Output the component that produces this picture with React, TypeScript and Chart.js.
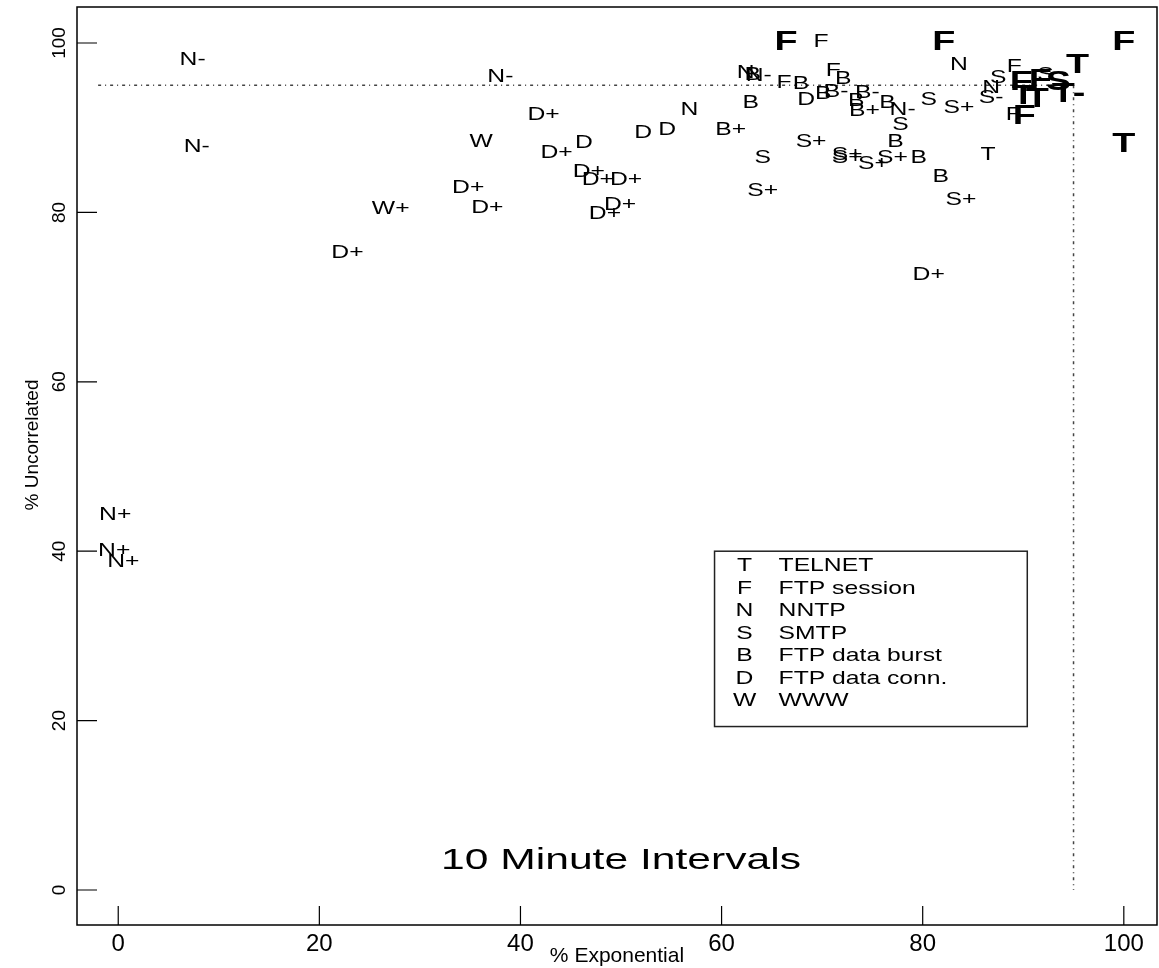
import { useEffect, useRef } from 'react';
import { Chart, registerables } from 'chart.js';

Chart.register(...registerables);

// ---- data ----
const xTicks = [0, 20, 40, 60, 80, 100];
const yTicks = [0, 20, 40, 60, 80, 100];

const plainLabels = [
  'N-', 'N-', 'N-', 'W', 'D+', 'D', 'D+', 'D', 'D', 'N',
  'D+', 'D+', 'D+', 'D+', 'D+', 'D+', 'D+', 'W+', 'D+', 'N+',
  'N+', 'N+', 'N', 'B', 'N-', 'F', 'B', 'D', 'B', 'B+',
  'S+', 'S', 'S+', 'F', 'B', 'B-', 'F', 'B', 'B', 'B-',
  'B+', 'B', 'N-', 'S', 'B', 'S+', 'S+', 'S+', 'S+', 'B',
  'B', 'S', 'S+', 'S+', 'D+', 'T', 'N', 'S', 'N', 'S-',
  'F', 'F', 'S',
];
const plainX = [
  7.4, 38.0, 7.8, 36.1, 42.3, 46.3, 43.6, 52.2, 54.6, 56.8,
  46.8, 47.7, 50.5, 34.8, 36.7, 49.9, 48.4, 27.1, 22.8, -0.3,
  -0.4, 0.5, 62.4, 63.1, 63.7, 66.2, 67.9, 68.4, 62.9, 60.9,
  68.9, 64.1, 64.1, 69.9, 70.1, 71.4, 71.1, 72.1, 73.4, 74.5,
  74.2, 76.5, 78.0, 77.8, 77.3, 72.5, 72.5, 75.1, 77.0, 79.6,
  81.8, 80.6, 83.6, 83.8, 80.6, 86.5, 83.6, 87.5, 86.8, 86.8,
  89.1, 89.0, 92.2,
];
const plainY = [
  98.0, 96.0, 87.7, 88.3, 91.5, 88.2, 87.0, 89.4, 89.7, 92.1,
  84.8, 83.8, 83.8, 82.9, 80.6, 80.9, 79.8, 80.4, 75.2, 44.3,
  40.1, 38.7, 96.5, 96.2, 96.1, 95.3, 95.2, 93.3, 93.0, 89.7,
  88.3, 86.5, 82.6, 100.1, 94.0, 94.2, 96.7, 95.8, 93.2, 94.1,
  92.0, 93.0, 92.1, 90.3, 88.3, 86.8, 86.4, 85.8, 86.5, 86.5,
  84.2, 93.3, 92.4, 81.5, 72.6, 86.8, 97.4, 95.9, 94.7, 93.5,
  97.2, 91.5, 96.2,
];

const boldLabels = ['F', 'F', 'F', 'T', 'T', 'F', 'F', 'S', 'T', 'T', 'T-', 'F'];
const boldX = [66.4, 82.1, 100.0, 95.4, 100.0, 89.8, 91.7, 93.5, 90.0, 91.4, 94.5, 90.1];
const boldY = [100.1, 100.1, 100.1, 97.4, 88.0, 95.4, 95.6, 95.4, 93.7, 93.3, 94.0, 91.3];

const refLevel = 95;
const refStart = -2;

const legendSymbols = ['T', 'F', 'N', 'S', 'B', 'D', 'W'];
const legendNames = ['TELNET', 'FTP session', 'NNTP', 'SMTP', 'FTP data burst', 'FTP data conn.', 'WWW'];

const chartTitle = '10 Minute Intervals';
const xTitle = '% Exponential';
const yTitle = '% Uncorrelated';

// ---- layout constants (data units for anchors) ----
const TITLE_AT = { x: 50, y: 3.5 };
const LEGEND_BOX = { left: 59.3, right: 90.4, top: 40.0, bottom: 19.3 };

const SANS = '"Liberation Sans", Arial, Helvetica, sans-serif';
const NARROW = '"Liberation Sans Narrow", "Liberation Sans", sans-serif';

const textPlugin = {
  id: 'textMarks',
  afterDatasetsDraw(chart: any) {
    const ctx = chart.ctx;
    chart.data.datasets.forEach((ds: any, i: number) => {
      if (!ds.textLabels) return;
      const meta = chart.getDatasetMeta(i);
      ctx.save();
      ctx.font = ds.textFont;
      ctx.fillStyle = '#000';
      ctx.textAlign = 'center';
      ctx.textBaseline = 'middle';
      meta.data.forEach((el: any, j: number) => {
        ctx.save();
        ctx.translate(el.x, el.y);
        ctx.scale(ds.textScaleX, 1);
        ctx.fillText(ds.textLabels[j], 0, 0);
        ctx.restore();
      });
      ctx.restore();
    });
  },
  afterDraw(chart: any) {
    const ctx = chart.ctx;
    const xs = chart.scales.x;
    const ys = chart.scales.y;
    const a = chart.chartArea;
    ctx.save();
    // box
    ctx.strokeStyle = '#000';
    ctx.lineWidth = 1.5;
    ctx.strokeRect(a.left, a.top, a.right - a.left, a.bottom - a.top);
    // tick marks (inward)
    ctx.lineWidth = 1.2;
    ctx.beginPath();
    xTicks.forEach((v) => {
      const px = xs.getPixelForValue(v);
      ctx.moveTo(px, a.bottom);
      ctx.lineTo(px, a.bottom - 19);
    });
    yTicks.forEach((v) => {
      const py = ys.getPixelForValue(v);
      ctx.moveTo(a.left, py);
      ctx.lineTo(a.left + 20, py);
    });
    ctx.stroke();
    // y tick labels (rotated)
    ctx.fillStyle = '#000';
    ctx.font = '19px ' + NARROW;
    ctx.textAlign = 'center';
    ctx.textBaseline = 'middle';
    yTicks.forEach((v) => {
      const py = ys.getPixelForValue(v);
      ctx.save();
      ctx.translate(a.left - 17, py);
      ctx.rotate(-Math.PI / 2);
      ctx.fillText(String(v), 0, 0);
      ctx.restore();
    });
    // y axis title
    ctx.save();
    ctx.font = '19px ' + NARROW;
    ctx.translate(a.left - 44, (a.top + a.bottom) / 2 - 21);
    ctx.rotate(-Math.PI / 2);
    ctx.fillText(yTitle, 0, 0);
    ctx.restore();
    // chart title
    ctx.font = '30px ' + SANS;
    ctx.save();
    ctx.translate(xs.getPixelForValue(TITLE_AT.x), ys.getPixelForValue(TITLE_AT.y));
    ctx.scale(1.42, 1);
    ctx.fillText(chartTitle, 0, 0);
    ctx.restore();
    // legend
    const L = xs.getPixelForValue(LEGEND_BOX.left);
    const R = xs.getPixelForValue(LEGEND_BOX.right);
    const T = ys.getPixelForValue(LEGEND_BOX.top);
    const B = ys.getPixelForValue(LEGEND_BOX.bottom);
    ctx.lineWidth = 1.5;
    ctx.strokeStyle = '#222';
    ctx.strokeRect(L, T, R - L, B - T);
    ctx.font = '19px ' + SANS;
    const rowH = 22.5;
    legendSymbols.forEach((s, i) => {
      const cy = T + 15 + rowH * i;
      ctx.save();
      ctx.translate(L + 30, cy);
      ctx.scale(1.3, 1);
      ctx.textAlign = 'center';
      ctx.fillText(s, 0, 0);
      ctx.restore();
      ctx.save();
      ctx.translate(L + 64, cy);
      ctx.scale(1.3, 1);
      ctx.textAlign = 'left';
      ctx.fillText(legendNames[i], 0, 0);
      ctx.restore();
    });
    ctx.restore();
  },
};

export default function App() {
  const ref = useRef<HTMLCanvasElement | null>(null);
  useEffect(() => {
    if (!ref.current) return;
    const dotted = {
      showLine: true,
      borderColor: '#444',
      borderWidth: 1.5,
      borderDash: [3, 4, 1, 4],
      pointRadius: 0,
      fill: false,
    };
    const chart = new Chart(ref.current, {
      type: 'scatter',
      data: {
        datasets: [
          { ...dotted, data: [{ x: refStart, y: refLevel }, { x: refLevel, y: refLevel }] },
          { ...dotted, data: [{ x: refLevel, y: refLevel }, { x: refLevel, y: 0 }] },
          {
            data: plainX.map((x, i) => ({ x, y: plainY[i] })),
            pointRadius: 0,
            textLabels: plainLabels,
            textFont: '19px ' + SANS,
            textScaleX: 1.3,
          } as any,
          {
            data: boldX.map((x, i) => ({ x, y: boldY[i] })),
            pointRadius: 0,
            textLabels: boldLabels,
            textFont: 'bold 28px ' + SANS,
            textScaleX: 1.35,
          } as any,
        ],
      },
      options: {
        animation: false,
        responsive: true,
        maintainAspectRatio: false,
        layout: { padding: { top: 7, right: 2, left: 0, bottom: 0 } },
        plugins: { legend: { display: false }, tooltip: { enabled: false } },
        scales: {
          x: {
            type: 'linear',
            min: -4.1,
            max: 103.3,
            afterBuildTicks: (s: any) => { s.ticks = xTicks.map((v) => ({ value: v })); },
            afterFit: (s: any) => { s.height = 43; },
            grid: { display: false, drawTicks: false },
            border: { display: false },
            ticks: {
              padding: 5,
              color: '#000',
              maxRotation: 0,
              font: { family: NARROW, size: 24 },
            },
            title: {
              display: true,
              text: xTitle,
              color: '#000',
              font: { family: SANS, size: 21 },
              padding: { top: 0, bottom: -1 },
            },
          },
          y: {
            type: 'linear',
            min: -4.13,
            max: 104.25,
            afterBuildTicks: (s: any) => { s.ticks = yTicks.map((v) => ({ value: v })); },
            afterFit: (s: any) => { s.width = 77; },
            grid: { display: false, drawTicks: false },
            border: { display: false },
            ticks: { display: false },
            title: { display: false },
          },
        },
      } as any,
      plugins: [textPlugin],
    });
    return () => chart.destroy();
  }, []);
  return (
    <div style={{ position: 'fixed', left: 0, top: 0, width: 1159, height: 968, background: '#fff' }}>
      <canvas ref={ref} />
    </div>
  );
}
